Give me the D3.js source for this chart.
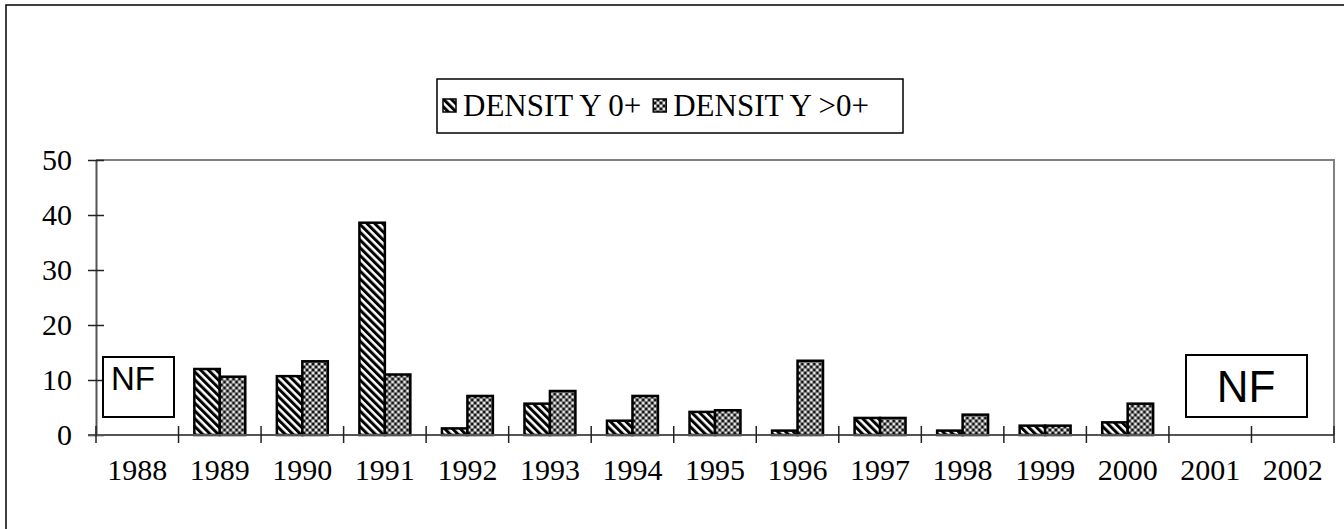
<!DOCTYPE html>
<html>
<head>
<meta charset="utf-8">
<script src="https://cdn.jsdelivr.net/npm/d3@7"></script>
<style>
  body { margin: 0; background: #fff; }
  svg { display: block; }
  svg text.serif { font-family: "Liberation Serif", "Times New Roman", Times, "DejaVu Serif", serif; }
  svg text.sans { font-family: "Liberation Sans", Arial, Helvetica, sans-serif; }
</style>
</head>
<body>
<div id="canvas"></div>
<script>
// chart data
var years = ["1988", "1989", "1990", "1991", "1992", "1993", "1994", "1995",
  "1996", "1997", "1998", "1999", "2000", "2001", "2002"];
var density0 = [null, 12, 10.7, 38.6, 1.2, 5.7, 2.6, 4.2, 0.8, 3.1, 0.8, 1.7, 2.3, null, null];
var densityGt0 = [null, 10.6, 13.4, 11.0, 7.1, 8.0, 7.1, 4.5, 13.5, 3.1, 3.7, 1.7, 5.7, null, null];
var seriesNames = ["DENSIT Y 0+", "DENSIT Y >0+"];
var yTicks = [0, 10, 20, 30, 40, 50];

var width = 1344, height = 529;
var plot = { left: 96, right: 1334, top: 160, bottom: 435 };

var svg = d3.select("#canvas").append("svg")
  .attr("width", width).attr("height", height);

// patterns
var defs = svg.append("defs");
var p1 = defs.append("pattern").attr("id", "stripes")
  .attr("patternUnits", "userSpaceOnUse")
  .attr("width", 5.5).attr("height", 5.5)
  .attr("patternTransform", "rotate(-45)");
p1.append("rect").attr("width", 5.5).attr("height", 5.5).attr("fill", "#fff");
p1.append("rect").attr("width", 3).attr("height", 5.5).attr("fill", "#000");

var p2 = defs.append("pattern").attr("id", "checks")
  .attr("patternUnits", "userSpaceOnUse")
  .attr("width", 6).attr("height", 6);
p2.append("rect").attr("width", 6).attr("height", 6).attr("fill", "#7a7a7a");
p2.append("rect").attr("x", 0).attr("y", 0).attr("width", 2).attr("height", 2).attr("fill", "#111");
p2.append("rect").attr("x", 3).attr("y", 3).attr("width", 2).attr("height", 2).attr("fill", "#111");
p2.append("rect").attr("x", 3).attr("y", 0).attr("width", 2).attr("height", 2).attr("fill", "#e8e8e8");
p2.append("rect").attr("x", 0).attr("y", 3).attr("width", 2).attr("height", 2).attr("fill", "#e8e8e8");

var fills = ["url(#stripes)", "url(#checks)"];

// outer frame
svg.append("rect")
  .attr("x", 6).attr("y", 5)
  .attr("width", width + 10).attr("height", height + 10)
  .attr("fill", "none").attr("stroke", "#000").attr("stroke-width", 1.5);

// scales
var x = d3.scaleBand().domain(years).range([plot.left, plot.right]).padding(0);
var xInner = d3.scaleBand().domain([0, 1]).range([0, x.bandwidth()])
  .paddingInner(0).paddingOuter(0.62);
var y = d3.scaleLinear().domain([0, 50]).range([plot.bottom, plot.top]);

// plot border (top and right)
svg.append("path")
  .attr("d", "M" + plot.left + "," + plot.top + "H" + plot.right + "V" + plot.bottom)
  .attr("fill", "none").attr("stroke", "#808080").attr("stroke-width", 2);

// bars
var rows = years.map(function (yr, i) {
  return { year: yr, values: [density0[i], densityGt0[i]] };
});
var groups = svg.selectAll("g.year").data(rows).enter().append("g")
  .attr("class", "year")
  .attr("transform", function (d) { return "translate(" + x(d.year) + ",0)"; });

groups.selectAll("rect")
  .data(function (d) {
    return d.values.map(function (v, k) { return { k: k, v: v }; })
      .filter(function (e) { return e.v != null; });
  })
  .enter().append("rect")
  .attr("x", function (d) { return xInner(d.k); })
  .attr("y", function (d) { return y(d.v); })
  .attr("width", xInner.bandwidth())
  .attr("height", function (d) { return y(0) - y(d.v); })
  .attr("fill", function (d) { return fills[d.k]; })
  .attr("stroke", "#000").attr("stroke-width", 2.5);

// y axis
var yAxis = d3.axisLeft(y).tickValues(yTicks).tickSize(0).tickPadding(24);
var gy = svg.append("g").attr("transform", "translate(" + plot.left + ",0)").call(yAxis);
gy.attr("font-family", null).attr("font-size", null);
gy.select(".domain").attr("stroke", "#555").attr("stroke-width", 2);
gy.selectAll(".tick text")
  .attr("class", "serif")
  .style("font-size", "30px").attr("fill", "#000");
gy.selectAll(".tick").append("line")
  .attr("x1", -8).attr("x2", 8).attr("stroke", "#222").attr("stroke-width", 1.5);

// x axis
var gx = svg.append("g").attr("transform", "translate(0," + plot.bottom + ")");
gx.append("line")
  .attr("x1", plot.left - 8).attr("x2", plot.right)
  .attr("stroke", "#555").attr("stroke-width", 2);
var boundaries = years.map(function (yr) { return x(yr); }).concat([plot.right]);
gx.selectAll("line.tick").data(boundaries).enter().append("line")
  .attr("class", "tick")
  .attr("x1", function (d) { return d; }).attr("x2", function (d) { return d; })
  .attr("y1", -9).attr("y2", 8)
  .attr("stroke", "#222").attr("stroke-width", 1.5);
gx.selectAll("text").data(years).enter().append("text")
  .attr("class", "serif")
  .attr("x", function (d) { return x(d) + x.bandwidth() / 2; })
  .attr("y", 45)
  .attr("text-anchor", "middle")
  .style("font-size", "30px")
  .text(function (d) { return d; });

// NF boxes
var nf = [
  { x: 103, y: 357, w: 71, h: 60, size: 33, tx: 111, ty: 390, anchor: "start" },
  { x: 1186, y: 355, w: 121, h: 62, size: 44, tx: 1246, ty: 402, anchor: "middle" }
];
var nfG = svg.selectAll("g.nf").data(nf).enter().append("g").attr("class", "nf");
nfG.append("rect")
  .attr("x", function (d) { return d.x; }).attr("y", function (d) { return d.y; })
  .attr("width", function (d) { return d.w; }).attr("height", function (d) { return d.h; })
  .attr("fill", "#fff").attr("stroke", "#000").attr("stroke-width", 2);
nfG.append("text")
  .attr("class", "sans")
  .attr("x", function (d) { return d.tx; }).attr("y", function (d) { return d.ty; })
  .attr("text-anchor", function (d) { return d.anchor; })
  .style("font-size", function (d) { return d.size + "px"; })
  .text("NF");

// legend
var legend = svg.append("g");
legend.append("rect")
  .attr("x", 437).attr("y", 79).attr("width", 466).attr("height", 54)
  .attr("fill", "#fff").attr("stroke", "#000").attr("stroke-width", 1.5);
var cursor = 443;
seriesNames.forEach(function (name, i) {
  legend.append("rect")
    .attr("x", cursor).attr("y", 99).attr("width", 13).attr("height", 13)
    .attr("fill", fills[i]).attr("stroke", "#000").attr("stroke-width", 1.5);
  var t = legend.append("text")
    .attr("class", "serif")
    .attr("x", cursor + 20).attr("y", 116)
    .style("font-size", "31px")
    .text(name);
  cursor += 20 + t.node().getComputedTextLength() + 12;
});
</script>
</body>
</html>
